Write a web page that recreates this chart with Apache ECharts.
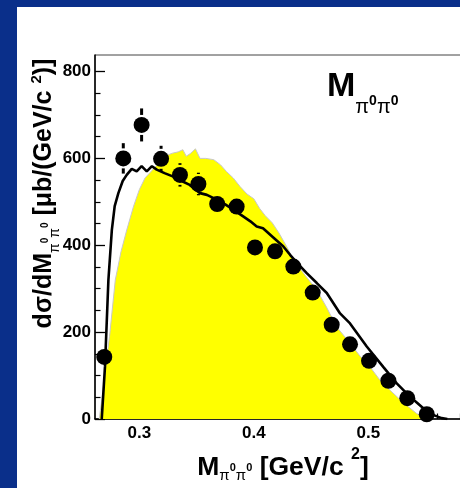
<!DOCTYPE html>
<html><head><meta charset="utf-8">
<script src="https://cdn.jsdelivr.net/npm/echarts@6/dist/echarts.min.js"></script>
<style>html,body{margin:0;padding:0;background:#fff}#c{width:460px;height:488px}</style>
</head><body><div id="c"></div>
<script>
// yellow band (simulation)
const bandX = [0.265,0.268,0.271,0.274,0.279,0.284,0.289,0.295,0.300,0.305,0.311,0.318,0.324,0.329,0.334,0.338,0.341,0.345,0.349,0.353,0.358,0.365,0.371,0.376,0.382,0.388,0.394,0.400,0.405,0.410,0.416,0.422,0.428,0.435,0.445,0.455,0.464,0.472,0.483,0.493,0.502,0.510,0.519,0.528,0.535,0.542,0.548,0.553];
const bandY = [0,60,130,190,320,385,435,490,528,555,572,592,607,612,615,620,605,612,622,600,600,597,585,570,555,535,518,507,485,468,452,428,400,366,330,297,255,213,178,144,118,90,66,44,28,13,3,0];
// black model curve
const modelX = [0.2672,0.270,0.273,0.276,0.2785,0.2817,0.2855,0.289,0.2934,0.2977,0.302,0.3065,0.311,0.3152,0.322,0.3297,0.337,0.344,0.353,0.359,0.3676,0.375,0.382,0.391,0.397,0.4025,0.408,0.417,0.4258,0.4316,0.439,0.4462,0.455,0.4637,0.4753,0.484,0.4986,0.513,0.5248,0.5365,0.548,0.5570,0.5640,0.5690];
const modelY = [0,120,320,435,490,520,548,562,576,570,582,570,582,574,566,558,548,539,520,516,505,494,482,466,455,443,439,418,397,378,356,336,313,290,243,220,167,120,82,51,25,9,2,0];
// data points
const dataX = [0.2694,0.286,0.302,0.319,0.3355,0.3516,0.368,0.385,0.401,0.4185,0.4345,0.4514,0.468,0.484,0.5006,0.5175,0.534,0.551];
const dataY = [143,600,677,599,562,541,495,489,395,386,351,291,217,172,134,88,48,11];
const dataErr = [10,35,38,30,27,26,15,14,12,12,12,11,10,10,10,9,8,8];
// ticks
const xMajorTicks = [0.3,0.4,0.5];
const xMinorTicks = [0.28,0.32,0.34,0.36,0.38,0.42,0.44,0.46,0.48,0.52,0.54,0.56,0.58,0.60];
const yMajorTicks = [0,200,400,600,800];
const yMinorTicks = [50,100,150,250,300,350,450,500,550,650,700,750];

const FONT = 'Liberation Sans';
const chart = echarts.init(document.getElementById('c'), null, {renderer:'canvas'});
const xMin = 0.2613, xMax = 0.6106;

const axisBase = {
  type:'value', min:xMin, max:xMax, splitLine:{show:false}
};
chart.setOption({
  animation:false,
  backgroundColor:'#ffffff',
  grid:{left:95, top:55, width:400, height:364, show:true, borderColor:'#444', borderWidth:1, backgroundColor:'transparent', outerBoundsMode:'none', containLabel:false},
  xAxis:[
    Object.assign({}, axisBase, {position:'bottom',
      axisLine:{show:true, onZero:false, lineStyle:{color:'#000', width:1.5}},
      axisTick:{show:true, inside:true, length:10, customValues:xMajorTicks, lineStyle:{color:'#000', width:1.3}},
      axisLabel:{show:true, customValues:xMajorTicks, margin:6, color:'#000', fontSize:17, fontWeight:'bold', fontFamily:FONT, formatter:v=>v.toFixed(1)}}),
    Object.assign({}, axisBase, {position:'bottom',
      axisLine:{show:false, onZero:false},
      axisTick:{show:true, inside:true, length:5.5, customValues:xMinorTicks, lineStyle:{color:'#000', width:1.2}},
      axisLabel:{show:false}})
  ],
  yAxis:[
    {type:'value', min:0, max:838, position:'left', splitLine:{show:false},
      axisLine:{show:true, onZero:false, lineStyle:{color:'#000', width:1.5}},
      axisTick:{show:true, inside:true, length:10, customValues:yMajorTicks, lineStyle:{color:'#000', width:1.3}},
      axisLabel:{show:true, customValues:yMajorTicks, margin:4, color:'#000', fontSize:17, fontWeight:'bold', fontFamily:FONT}},
    {type:'value', min:0, max:838, position:'left', splitLine:{show:false},
      axisLine:{show:false, onZero:false},
      axisTick:{show:true, inside:true, length:5.5, customValues:yMinorTicks, lineStyle:{color:'#000', width:1.2}},
      axisLabel:{show:false}}
  ],
  series:[
    {type:'line', name:'band', xAxisIndex:0, yAxisIndex:0, data:bandX.map((x,i)=>[x,bandY[i]]), symbol:'none', silent:true,
      lineStyle:{color:'#c8c8c8', width:1}, areaStyle:{color:'#ffff00', opacity:1}, z:1},
    {type:'line', name:'model', xAxisIndex:0, yAxisIndex:0, data:modelX.map((x,i)=>[x,modelY[i]]), symbol:'none', silent:true,
      lineStyle:{color:'#000', width:2.6}, z:2},
    {type:'custom', name:'err', xAxisIndex:0, yAxisIndex:0, z:3, silent:true,
      data:dataX.map((x,i)=>[x,dataY[i],dataErr[i]]),
      renderItem:(params, api)=>{
        const x=api.value(0), y=api.value(1), e=api.value(2);
        const c=api.coord([x,y]), t=api.coord([x,y+e]), b=api.coord([x,y-e]);
        const gap=10, ch=[];
        if (c[1]-t[1] > gap) ch.push({type:'line', shape:{x1:c[0],y1:t[1],x2:c[0],y2:c[1]-gap}, style:{stroke:'#000', lineWidth:3}});
        if (b[1]-c[1] > gap) ch.push({type:'line', shape:{x1:c[0],y1:c[1]+gap,x2:c[0],y2:b[1]}, style:{stroke:'#000', lineWidth:3}});
        return {type:'group', children:ch};
      }},
    {type:'scatter', name:'data', xAxisIndex:0, yAxisIndex:0, data:dataX.map((x,i)=>[x,dataY[i]]), symbol:'circle', symbolSize:16,
      itemStyle:{color:'#000', opacity:1}, z:4, silent:true}
  ],
  graphic:[
    {type:'rect', shape:{x:0,y:0,width:460,height:7}, style:{fill:'#0a2f8a'}, z:100},
    {type:'rect', shape:{x:0,y:0,width:17,height:488}, style:{fill:'#0a2f8a'}, z:100},
    {type:'text', x:327, y:87, z:100, style:{text:'{M|M}{p|π}{z|0}{p|π}{z|0}', align:'left', verticalAlign:'middle', fill:'#000',
      rich:{M:{fontSize:34, fontWeight:'bold', fontFamily:FONT, fill:'#000'},
            p:{fontSize:20, fontFamily:FONT, padding:[40,0,0,0], fill:'#000'},
            z:{fontSize:14, fontWeight:'bold', fontFamily:FONT, padding:[28,0,0,0], fill:'#000'}}}},
    {type:'text', x:283, y:468, z:100, style:{text:'{a|M}{p|π}{z|0}{p|π}{z|0}{a| [GeV/c }{s|2}{a|]}', align:'center', verticalAlign:'middle', fill:'#000',
      rich:{a:{fontSize:26.5, fontWeight:'bold', fontFamily:FONT, fill:'#000'},
            p:{fontSize:15, fontFamily:FONT, padding:[16,0,0,0], fill:'#000'},
            z:{fontSize:11, fontWeight:'bold', fontFamily:FONT, fill:'#000'},
            s:{fontSize:16, fontWeight:'bold', fontFamily:FONT, padding:[0,0,26,0], fill:'#000'}}}},
    {type:'text', x:44, y:193.5, rotation:Math.PI/2, z:100, style:{text:'{a|dσ/dM}{p|π}{z|0}{p|π}{z|0}{a| [μb/(GeV/c }{s|2}{a|)]}', align:'center', verticalAlign:'middle', fill:'#000',
      rich:{a:{fontSize:25, fontWeight:'bold', fontFamily:FONT, fill:'#000'},
            p:{fontSize:14, fontFamily:FONT, padding:[22,0,0,0], fill:'#000'},
            z:{fontSize:10, fontWeight:'bold', fontFamily:FONT, padding:[3,0,0,0], fill:'#000'},
            s:{fontSize:15, fontWeight:'bold', fontFamily:FONT, padding:[0,0,15,0], fill:'#000'}}}}
  ]
});
</script></body></html>
